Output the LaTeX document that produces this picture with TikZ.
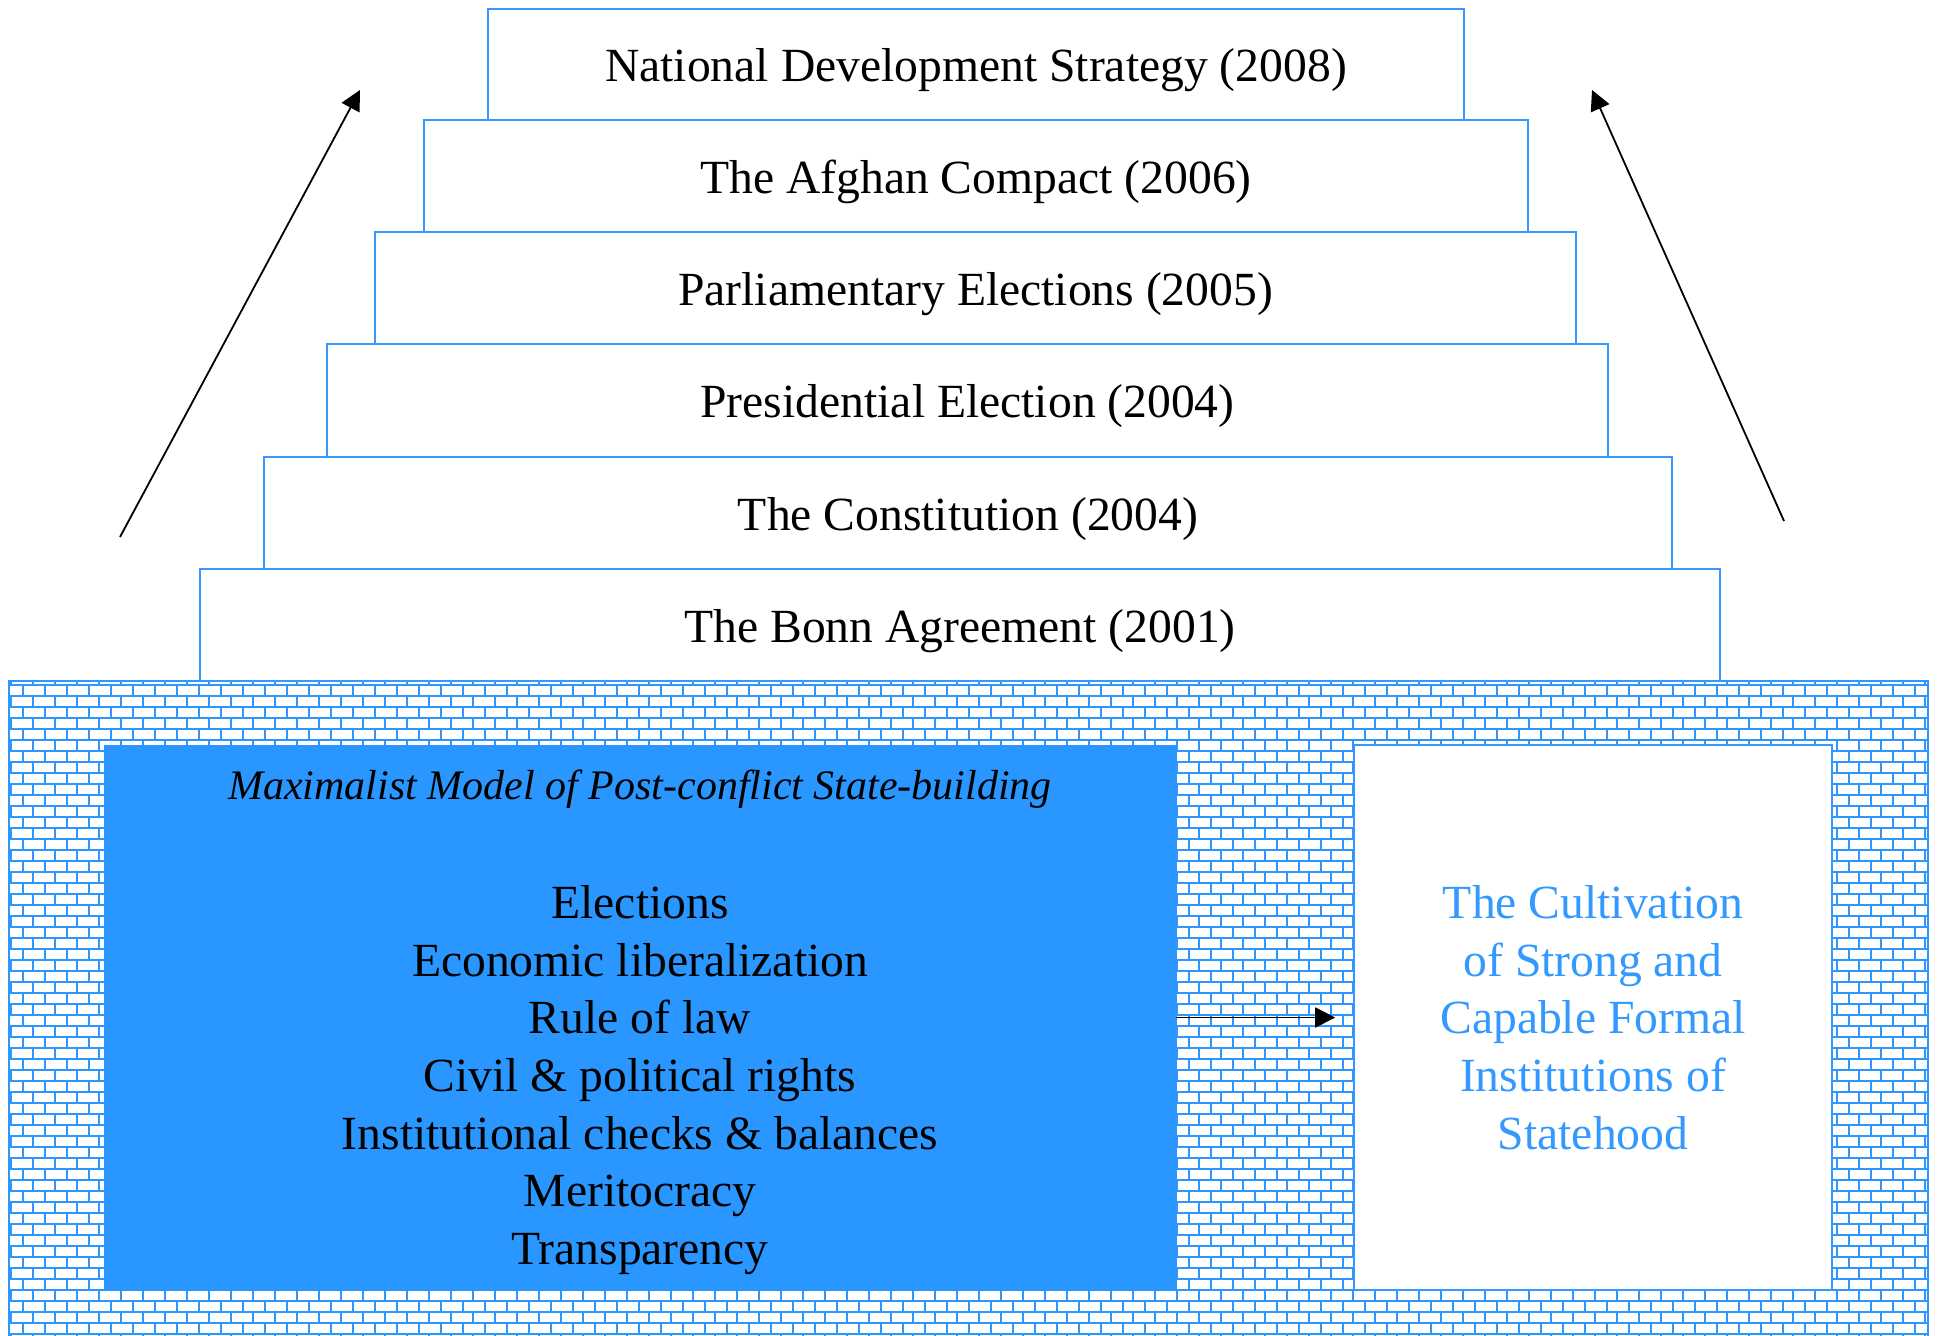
\documentclass[tikz,border=0pt]{standalone}
\usepackage{fontspec}
\setmainfont{Liberation Serif}
\usetikzlibrary{arrows.meta}
\definecolor{boxblue}{RGB}{51,153,255}
\definecolor{fillblue}{RGB}{41,151,255}
\definecolor{brickblue}{RGB}{45,150,255}
\begin{document}
\begin{tikzpicture}[x=0.5pt,y=-0.5pt,
 txt/.style={font=\fontsize{23.8}{28.85}\selectfont},
 pbox/.style={draw=boxblue,line width=0.8pt,inner sep=0pt,txt},
 stepbox/.style={pbox,text height=19pt,text depth=2pt},
 mortar/.style={draw=brickblue,line width=1pt},
 arr/.style={-{Triangle[length=10pt,width=10pt]},line width=0.9pt,draw=black}]
\useasboundingbox (0,0) rectangle (1937,1335);
% brick wall
\fill[white] (9,681) rectangle (1928,1340);
\begin{scope}
\clip (9,681) rectangle (1928,1340);
\foreach \k in {0,...,60} \draw[mortar] (0,685+11*\k) -- (1940,685+11*\k);
\foreach \m in {0,...,88} {
 \draw[mortar,dash pattern=on 5.5pt off 5.5pt] (11.3+22*\m,674) -- (11.3+22*\m,1340);
 \draw[mortar,dash pattern=on 5.5pt off 5.5pt,dash phase=5.5pt] (0.7+22*\m,674) -- (0.7+22*\m,1340);
}
\end{scope}
\draw[mortar] (9,1340) |- (1928,681) -- (1928,1340);
% pyramid
\node[stepbox,minimum width=488pt,minimum height=55.5pt] (p6) at (976,64.5) {National Development Strategy (2008)};
\node[stepbox,minimum width=552pt,minimum height=56pt] (p5) at (976,176) {The Afghan Compact (2006)};
\node[stepbox,minimum width=600.5pt,minimum height=56pt] (p4) at (975.5,288) {Parliamentary Elections (2005)};
\node[stepbox,minimum width=640.5pt,minimum height=56.5pt] (p3) at (967.5,400.5) {Presidential Election (2004)};
\node[stepbox,minimum width=704pt,minimum height=56pt] (p2) at (968,513) {The Constitution (2004)};
\node[stepbox,minimum width=760pt,minimum height=56pt] (p1) at (960,625) {The Bonn Agreement (2001)};
% model box
\node[draw=fillblue,fill=fillblue,minimum width=536pt,minimum height=272.5pt,inner sep=0pt] (model) at (640,1017.5) {};
\node[font=\fontsize{21}{26}\selectfont\itshape] (title) at (640,789) {Maximalist Model of Post-conflict State-building};
\node[txt,align=center] (list) at (640,1080) {Elections\\Economic liberalization\\Rule of law\\Civil \& political rights\\Institutional checks \& balances\\Meritocracy\\Transparency};
% goal box
\node[pbox,fill=white,text=boxblue,align=center,minimum width=239pt,minimum height=272.5pt] (goal) at (1593,1017.5) {The Cultivation\\of Strong and\\Capable Formal\\Institutions of\\Statehood};
% arrows
\draw[arr,shorten >=9pt] (model.east) -- (goal.west);
\coordinate (la) at (120,537);
\coordinate (lb) at (360,90);
\coordinate (ra) at (1784,521);
\coordinate (rb) at (1592,90);
\draw[arr] (la) -- (lb);
\draw[arr] (ra) -- (rb);
\end{tikzpicture}
\end{document}
